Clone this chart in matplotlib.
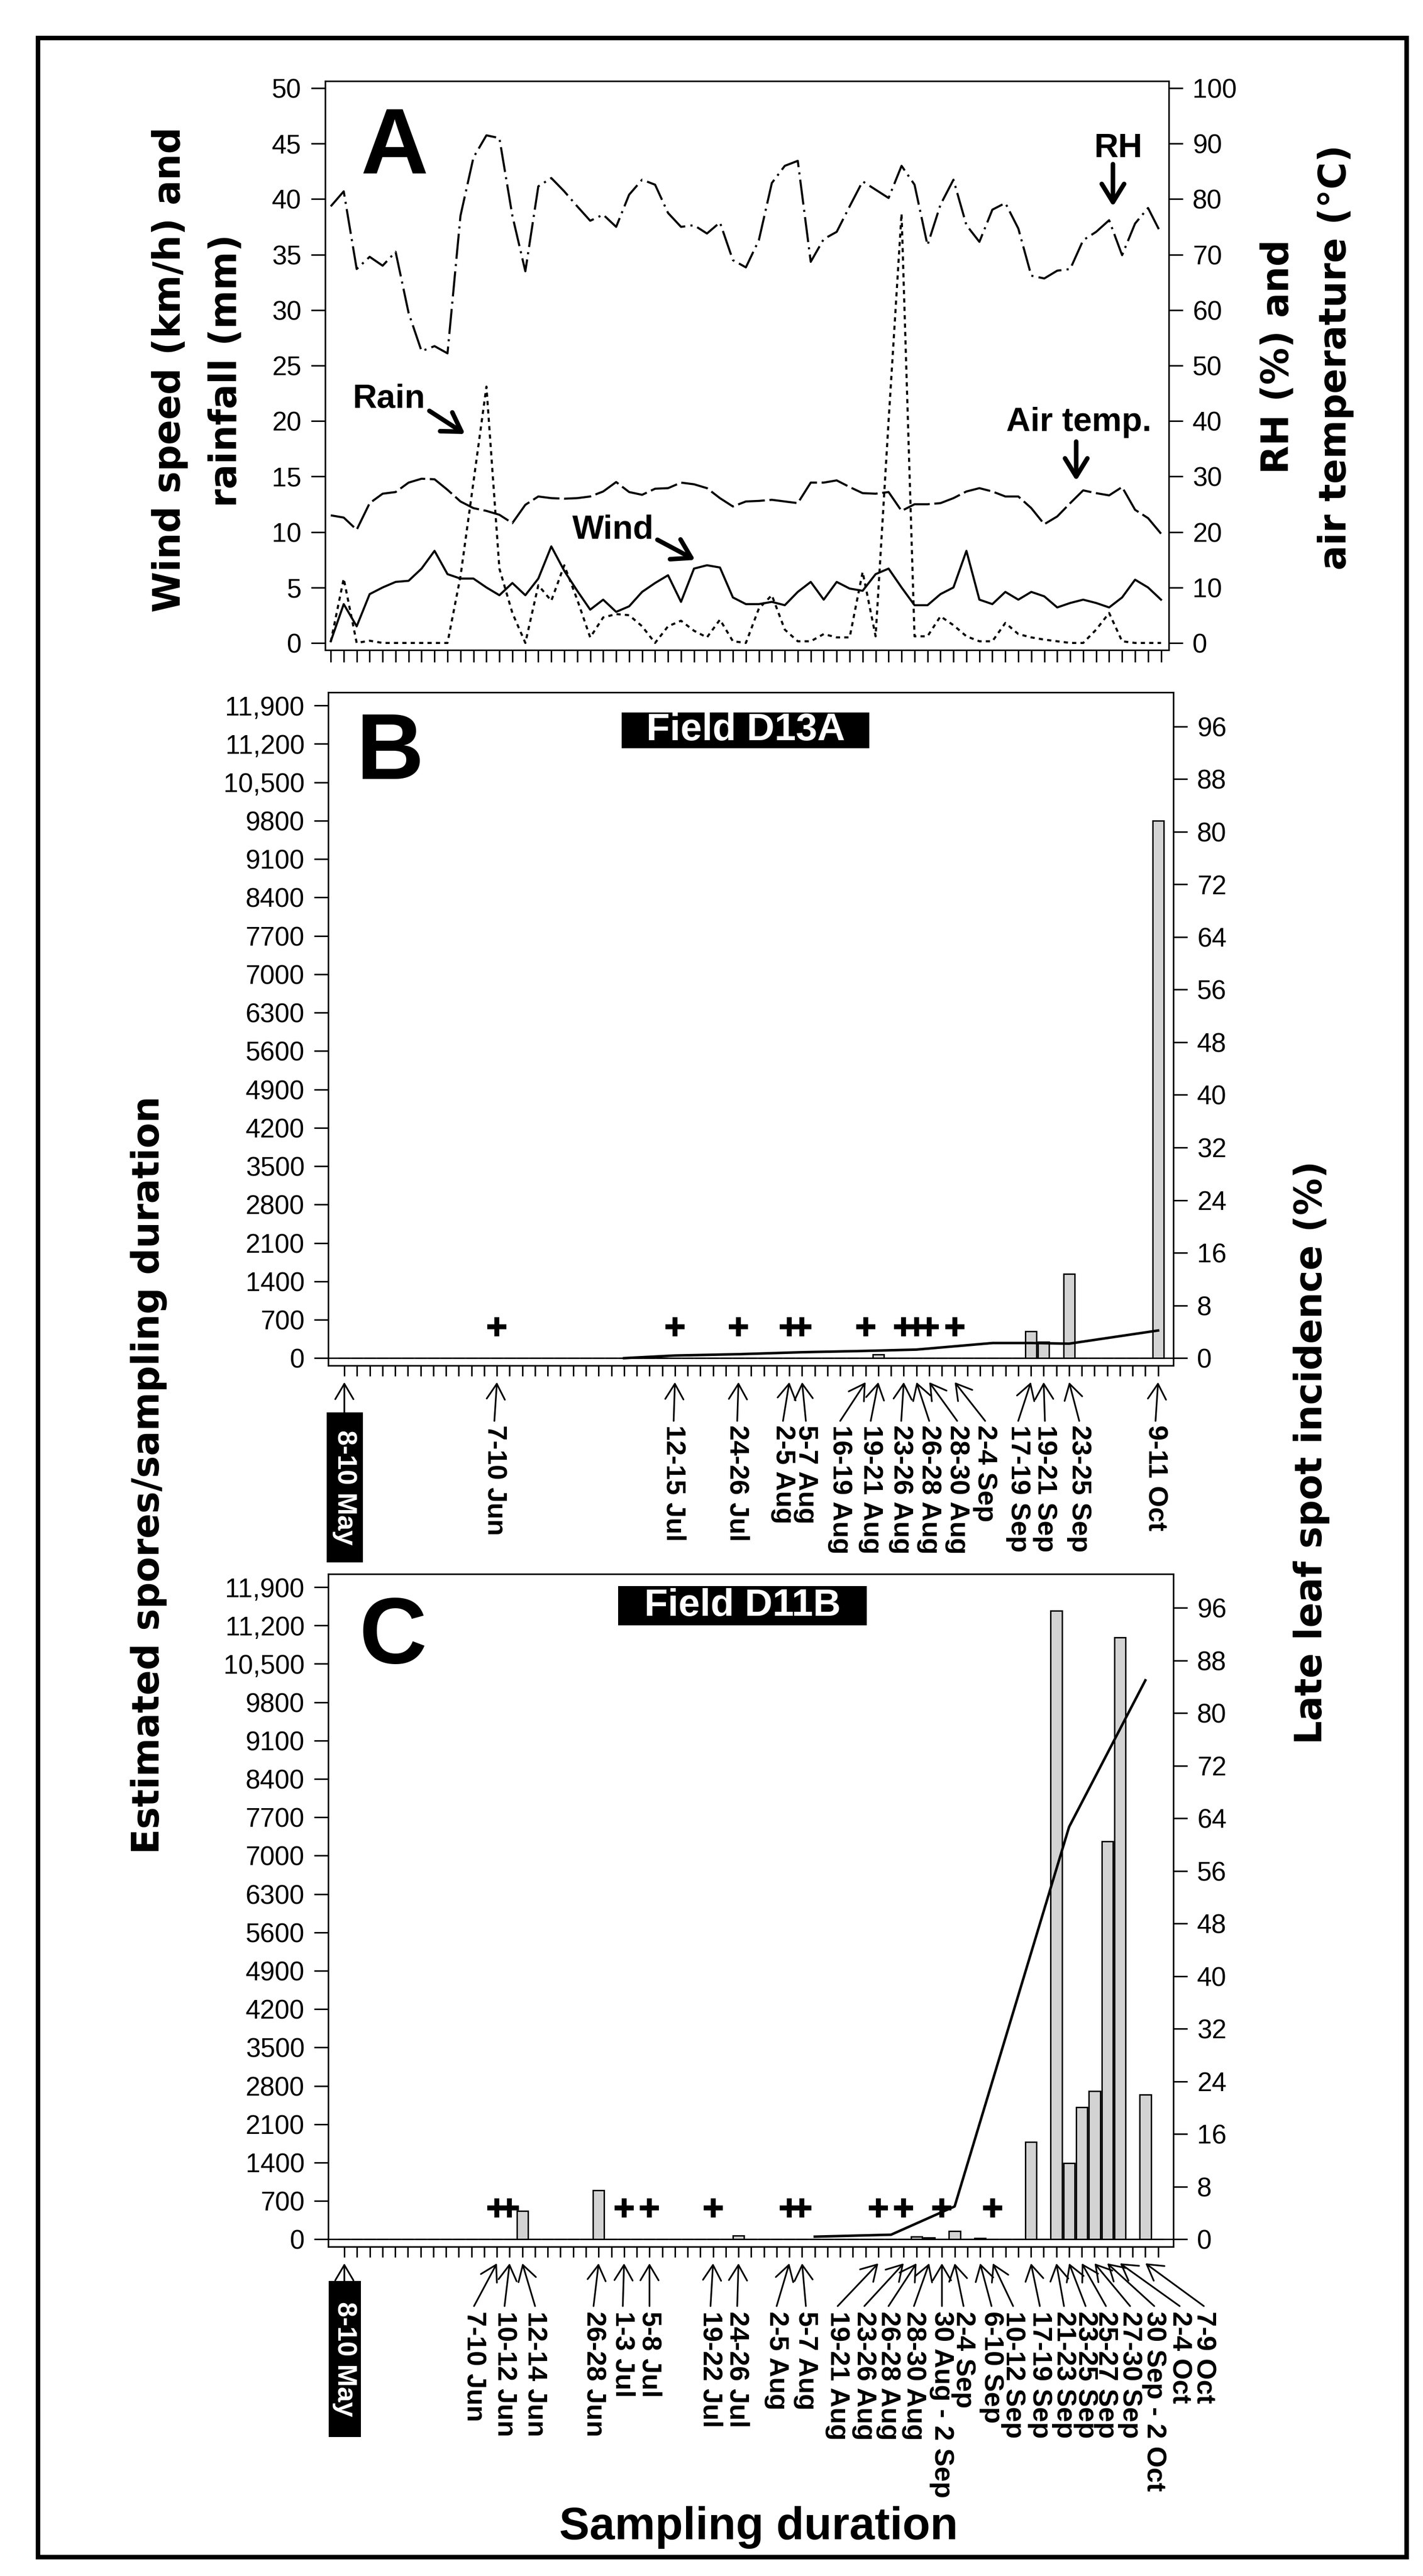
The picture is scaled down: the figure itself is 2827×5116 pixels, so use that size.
import matplotlib
matplotlib.use("Agg")
import matplotlib.pyplot as plt
import matplotlib.transforms as mtransforms
from matplotlib.patches import Rectangle, FancyArrowPatch

W, H = 2827, 5116
plt.rcParams['font.family'] = ['Liberation Sans', 'DejaVu Sans']

# ---------------------------
# Data
# ---------------------------
periods = list(range(65))   # sampling periods, 8-10 May ... 9-11 Oct

rh_pct = [78.7, 81.4, 67.4, 69.6, 68.0, 70.5, 59.5, 52.6, 53.5, 52.2,
          77.0, 87.5, 91.5, 91.0, 77.0, 67.0, 82.3, 83.8, 81.4, 78.7,
          76.1, 77.2, 75.0, 80.8, 83.5, 82.6, 77.5, 75.0, 75.3, 73.8,
          75.8, 69.0, 67.7, 72.6, 82.9, 86.0, 86.9, 68.7, 72.8, 74.1,
          78.7, 83.2, 81.7, 80.2, 86.0, 82.6, 71.7, 79.0, 83.5, 75.3,
          72.3, 78.1, 79.3, 74.7, 66.2, 65.7, 67.1, 67.4, 72.6, 74.1,
          76.2, 69.9, 75.6, 78.4, 73.8]
air_temp = [23.0, 22.6, 20.4, 25.2, 26.9, 27.2, 28.9, 29.6, 29.5, 27.6,
            25.5, 24.3, 23.8, 23.1, 21.6, 24.9, 26.4, 26.1, 26.0, 26.1,
            26.4, 27.3, 29.0, 27.2, 26.7, 27.8, 27.9, 28.9, 28.6, 27.9,
            26.1, 24.6, 25.5, 25.6, 25.8, 25.5, 25.2, 28.9, 28.9, 29.3,
            28.1, 27.0, 26.9, 27.2, 23.8, 25.0, 25.0, 25.2, 26.1, 27.3,
            27.9, 27.3, 26.4, 26.4, 24.3, 21.4, 22.8, 25.2, 27.5, 27.0,
            26.6, 28.1, 24.0, 22.5, 19.7]
wind_kmh = [0.15, 3.5, 1.5, 4.4, 5.0, 5.5, 5.6, 6.7, 8.3, 6.2,
            5.8, 5.8, 5.0, 4.3, 5.4, 4.3, 5.8, 8.7, 6.5, 4.7,
            3.0, 3.9, 2.8, 3.3, 4.6, 5.4, 6.1, 3.7, 6.7, 7.0,
            6.8, 4.1, 3.5, 3.5, 3.7, 3.4, 4.6, 5.5, 3.9, 5.5,
            4.9, 4.7, 6.2, 6.7, 5.0, 3.4, 3.4, 4.4, 5.0, 8.3,
            3.9, 3.5, 4.6, 3.9, 4.6, 4.2, 3.2, 3.6, 3.9, 3.6,
            3.2, 4.1, 5.7, 5.0, 3.9]
rain_mm = [0.1, 5.8, 0, 0.2, 0, 0, 0, 0, 0, 0,
           6.0, 14.5, 23.1, 6.7, 2.7, 0, 5.2, 3.8, 7.0, 3.9,
           0.5, 2.3, 2.6, 2.5, 1.5, 0, 1.5, 2.0, 1.1, 0.5,
           2.1, 0.15, 0, 3.1, 4.3, 1.2, 0.15, 0.15, 0.8, 0.5,
           0.5, 6.4, 0.6, 20.0, 38.7, 0.6, 0.6, 2.4, 1.6, 0.6,
           0.15, 0.15, 1.8, 0.8, 0.5, 0.3, 0.15, 0, 0, 1.2,
           2.7, 0.15, 0, 0, 0]

# Field D13A
d13a_bar_idx = [42, 54, 55, 57, 64]
d13a_bar_val = [70, 490, 300, 1540, 9800]
d13a_lls_idx = [22, 26, 31, 36, 41, 45, 51, 54, 57, 64]
d13a_lls_pct = [0, 0.4, 0.6, 0.9, 1.1, 1.3, 2.3, 2.3, 2.2, 4.2]
d13a_plus_idx = [12, 26, 31, 35, 36, 41, 44, 45, 46, 48]
d13a_labels = ["8-10 May", "7-10 Jun", "12-15 Jul", "24-26 Jul", "2-5 Aug",
               "5-7 Aug", "16-19 Aug", "19-21 Aug", "23-26 Aug", "26-28 Aug",
               "28-30 Aug", "2-4 Sep", "17-19 Sep", "19-21 Sep", "23-25 Sep",
               "9-11 Oct"]
d13a_label_idx = [0, 12, 26, 31, 35, 36, 41, 42, 44, 45, 46, 48, 54, 55, 57, 64]

# Field D11B
d11b_bar_idx = [14, 20, 31, 45, 46, 48, 50, 54, 56, 57, 58, 59, 60, 61, 63]
d11b_bar_val = [520, 890, 70, 50, 30, 150, 25, 1780, 11470, 1390, 2414, 2705,
                7260, 10980, 2640]
d11b_lls_idx = [37, 43, 48, 57, 63]
d11b_lls_pct = [0.4, 0.7, 5.0, 62.7, 85.0]
d11b_plus_idx = [12, 13, 22, 24, 29, 35, 36, 42, 44, 47, 51]
d11b_labels = ["8-10 May", "7-10 Jun", "10-12 Jun", "12-14 Jun", "26-28 Jun",
               "1-3 Jul", "5-8 Jul", "19-22 Jul", "24-26 Jul", "2-5 Aug",
               "5-7 Aug", "19-21 Aug", "23-26 Aug", "26-28 Aug", "28-30 Aug",
               "30 Aug - 2 Sep", "2-4 Sep", "6-10 Sep", "10-12 Sep", "17-19 Sep",
               "21-23 Sep", "23-25 Sep", "25-27 Sep", "27-30 Sep",
               "30 Sep - 2 Oct", "2-4 Oct", "7-9 Oct"]
d11b_label_idx = [0, 12, 13, 14, 20, 22, 24, 29, 31, 35, 36, 42, 44, 45, 46,
                  47, 48, 50, 51, 54, 56, 57, 58, 59, 60, 61, 63]

plus_level = 575          # height of the "+" row (spores axis)
spore_ticks = list(range(0, 11901, 700))
lls_ticks = list(range(0, 97, 8))

# label text positions (in period units), spread out so they don't overlap
d13a_label_pos = [0, 11.8, 25.9, 30.9, 34.5, 36.3, 39.0, 41.4, 43.8, 46.0,
                  48.2, 50.4, 53.0, 55.1, 57.8, 63.8]
d11b_label_pos = [0, 10.2, 12.6, 15.0, 19.6, 21.9, 24.0, 28.8, 30.9, 34.0,
                  36.3, 38.8, 40.9, 42.8, 44.8, 47.0, 48.7, 50.9, 52.6, 54.7,
                  56.6, 58.3, 59.9, 61.8, 63.7, 65.7, 67.6]


def fxy(x, y):
    return x / W, 1 - y / H


def axes_px(x0, y0, x1, y1):
    return fig.add_axes([x0 / W, 1 - y1 / H, (x1 - x0) / W, (y1 - y0) / H])


def style_ax(ax, xlen):
    for s in ax.spines.values():
        s.set_linewidth(2.2)
    ax.tick_params(axis='y', direction='out', length=20, width=2.2, labelsize=38, pad=14)
    ax.tick_params(axis='x', direction='out', length=xlen, width=2.2, labelbottom=False)


fig = plt.figure(figsize=(W / 100, H / 100), dpi=100)

# outer frame
fig.add_artist(Rectangle(fxy(75, 5078), (2794 - 75) / W, (5078 - 75) / H,
                         transform=fig.transFigure, fill=False, lw=6.5, ec='k'))

# ---------------------------
# Panel A - weather
# ---------------------------
axA = axes_px(646, 161, 2322, 1291)
axA.plot(periods, wind_kmh, color='k', lw=3.0)
axA.plot(periods, rain_mm, color='k', lw=3.0, ls=(0, (2.0, 2.0)))
axA.set_xlim(-0.43, 64.6)
axA.set_ylim(-0.64, 50.64)
axA.set_yticks(range(0, 51, 5))
axA.set_xticks(periods)
style_ax(axA, 17)

axA2 = axA.twinx()
axA2.plot(periods, rh_pct, color='k', lw=3.0, ls=(0, (12, 2.5, 1, 2.5)))
axA2.plot(periods, air_temp, color='k', lw=3.0, ls=(0, (13, 2.2)))
axA2.set_ylim(-1.28, 101.28)
axA2.set_yticks(range(0, 101, 10))
style_ax(axA2, 17)

fig.text(784 / W, 1 - 344 / H, "A", ha='center', va='baseline', fontsize=134, fontweight='bold')


def big_arrow(tail, head):
    fig.add_artist(FancyArrowPatch(fxy(*tail), fxy(*head), transform=fig.transFigure,
                                   arrowstyle='->,head_length=26,head_width=16',
                                   mutation_scale=1, lw=6.5, color='k',
                                   shrinkA=0, shrinkB=0))


for txt, cx, base in [("RH", 2222, 312), ("Rain", 773, 809),
                      ("Wind", 1218, 1070), ("Air temp.", 2143, 856)]:
    fig.text(cx / W, 1 - base / H, txt, ha='center', va='baseline',
             fontsize=48, fontweight='bold')
big_arrow((2211, 326), (2211, 410))
big_arrow((853, 816), (924, 862))
big_arrow((1306, 1072), (1381, 1112))
big_arrow((2138, 877), (2138, 955))

# axis titles
title_kw = dict(rotation=90, ha='center', va='center', fontsize=53,
                fontweight='bold', family='DejaVu Sans')
fig.text(338 / W, 1 - 734 / H, "Wind speed (km/h) and", **title_kw)
fig.text(449 / W, 1 - 736 / H, "rainfall (mm)", **title_kw)
fig.text(2540 / W, 1 - 708 / H, "RH (%) and", **title_kw)
fig.text(2654 / W, 1 - 710 / H, "air temperature (°C)", **title_kw)
fig.text(295 / W, 1 - 2929 / H, "Estimated spores/sampling duration", **title_kw)
fig.text(2605 / W, 1 - 2885 / H, "Late leaf spot incidence (%)", **title_kw)


# ---------------------------
# Panels B and C - spores + disease
# ---------------------------
def spore_panel(box, bar_idx, bar_val, lls_idx, lls_pct, plus_idx):
    ax = axes_px(*box)
    vals = [0] * len(periods)
    for i, v in zip(bar_idx, bar_val):
        vals[i] = v
    ax.axhline(0, color='k', lw=2.0)
    ax.bar(periods, vals, width=0.88, color='#d3d3d3', edgecolor='k', lw=2.0)
    ax.plot(plus_idx, [plus_level] * len(plus_idx), ls='none', marker='+',
            ms=27, mew=7, color='k')
    ax.set_xlim(-1.27, 65.2)
    ax.set_ylim(-135, 12140)
    ax.set_yticks(spore_ticks)
    ax.set_yticklabels([f"{v:,}" if v >= 10000 else str(v) for v in spore_ticks])
    ax.set_xticks(periods)
    style_ax(ax, 15)

    ax2 = ax.twinx()
    ax2.plot(lls_idx, lls_pct, color='k', lw=3.6)
    ax2.set_ylim(-135 / 120, 12140 / 120)
    ax2.set_yticks(lls_ticks)
    style_ax(ax2, 15)
    return ax


def period_labels(ax, labels, idx, pos, head_y, tail_y, text_y, may_box):
    trans = mtransforms.blended_transform_factory(ax.transData, fig.transFigure)
    for lab, i, p in zip(labels, idx, pos):
        if i == 0:
            x0, y0, x1, y1 = may_box
            fig.add_artist(Rectangle(fxy(x0, y1), (x1 - x0) / W, (y1 - y0) / H,
                                     transform=fig.transFigure, fc='k', ec='none'))
            fig.text((x0 + x1) / 2 / W, 1 - (y0 + y1) / 2 / H, lab, color='white',
                     rotation=270, ha='center', va='center', fontsize=39,
                     fontweight='bold')
            tail = y0
        else:
            ax.text(p, 1 - text_y / H, lab, transform=trans, rotation=270,
                    ha='center', va='top', fontsize=39, fontweight='bold')
            tail = tail_y
        fig.add_artist(FancyArrowPatch((p, 1 - tail / H), (i, 1 - head_y / H),
                                       transform=trans,
                                       arrowstyle='->,head_length=22,head_width=13',
                                       mutation_scale=1, lw=2.4, color='k',
                                       shrinkA=0, shrinkB=0))


def field_box(x0, y0, x1, y1, name):
    fig.add_artist(Rectangle(fxy(x0, y1), (x1 - x0) / W, (y1 - y0) / H,
                             transform=fig.transFigure, fc='k', ec='none'))
    fig.text((x0 + x1) / 2 / W, 1 - (y0 + y1) / 2 / H, name, color='white',
             ha='center', va='center', fontsize=55, fontweight='bold')


axB = spore_panel((652, 1375, 2331, 2712), d13a_bar_idx, d13a_bar_val,
                  d13a_lls_idx, d13a_lls_pct, d13a_plus_idx)
fig.text(775 / W, 1 - 1547 / H, "B", ha='center', va='baseline', fontsize=134, fontweight='bold')
field_box(1235, 1415, 1727, 1486, "Field D13A")
period_labels(axB, d13a_labels, d13a_label_idx, d13a_label_pos,
              2745, 2822, 2830, (649, 2805, 721, 3103))

axC = spore_panel((652, 3126, 2331, 4462), d11b_bar_idx, d11b_bar_val,
                  d11b_lls_idx, d11b_lls_pct, d11b_plus_idx)
fig.text(781 / W, 1 - 3303 / H, "C", ha='center', va='baseline', fontsize=134, fontweight='bold')
field_box(1228, 3150, 1722, 3228, "Field D11B")
period_labels(axC, d11b_labels, d11b_label_idx, d11b_label_pos,
              4495, 4580, 4590, (653, 4530, 717, 4840))

fig.text(1507 / W, 1 - 5043 / H, "Sampling duration", ha='center', va='baseline',
         fontsize=65, fontweight='bold')

fig.savefig("out.png", dpi=100)
